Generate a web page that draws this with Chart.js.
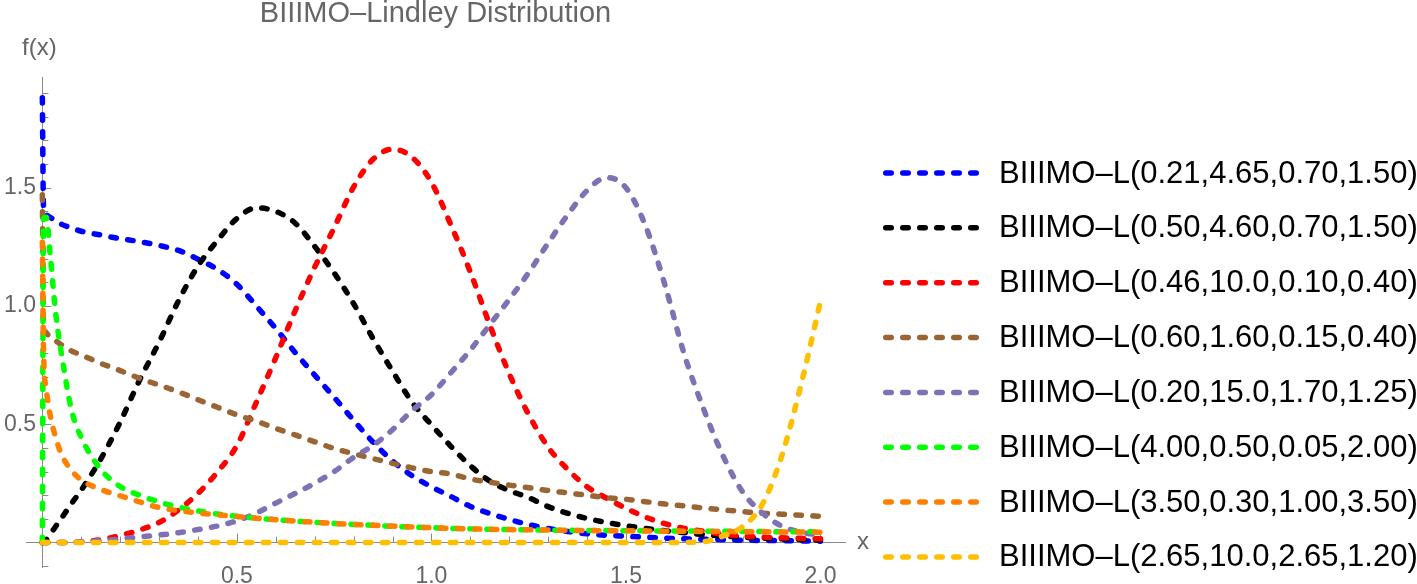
<!DOCTYPE html>
<html lang="en">
<head>
<meta charset="UTF-8">
<title>BIIIMO-Lindley Distribution</title>
<script src="https://cdn.jsdelivr.net/npm/chart.js@4.4.0/dist/chart.umd.min.js"></script>
<style>
  html, body { margin: 0; padding: 0; background: #fff; }
  #wrap { width: 1417px; height: 584px; }
</style>
</head>
<body>
<div id="wrap"><canvas id="myChart"></canvas></div>
<script>
// x grid shared by all curves (finer near 0 where curves are steep)
var xs = [0, 0.003, 0.01, 0.02, 0.035, 0.05, 0.075,
  0.1, 0.15, 0.2, 0.25, 0.3, 0.35, 0.4, 0.45, 0.5,
  0.55, 0.6, 0.65, 0.7, 0.75, 0.8, 0.85, 0.9, 0.95, 1.0,
  1.05, 1.1, 1.15, 1.2, 1.25, 1.3, 1.35, 1.4, 1.45, 1.5,
  1.55, 1.6, 1.65, 1.7, 1.75, 1.8, 1.85, 1.9, 1.95, 2.0];

var blueY = [1.88, 1.42, 1.385, 1.375, 1.36, 1.345, 1.33,
  1.316, 1.30, 1.285, 1.272, 1.256, 1.235, 1.198, 1.155, 1.092,
  1.0, 0.905, 0.803, 0.708, 0.614, 0.517, 0.425, 0.345, 0.283, 0.236,
  0.195, 0.153, 0.123, 0.098, 0.076, 0.06, 0.047, 0.037, 0.031, 0.027,
  0.023, 0.019, 0.016, 0.014, 0.012, 0.01, 0.009, 0.008, 0.007, 0.006];

var blackY = [0, 0.002, 0.012, 0.035, 0.07, 0.105, 0.165,
  0.222, 0.353, 0.509, 0.687, 0.847, 1.022, 1.169, 1.277, 1.37,
  1.415, 1.40, 1.35, 1.252, 1.14, 1.01, 0.862, 0.725, 0.594, 0.498,
  0.407, 0.325, 0.26, 0.22, 0.19, 0.152, 0.124, 0.102, 0.085, 0.071,
  0.06, 0.05, 0.042, 0.034, 0.028, 0.023, 0.019, 0.016, 0.013, 0.011];

var redY = [0, 0, 0, 0, 0, 0, 0.001,
  0.003, 0.012, 0.03, 0.053, 0.085, 0.138, 0.208, 0.298, 0.41,
  0.593, 0.782, 0.981, 1.164, 1.331, 1.503, 1.62, 1.663, 1.629, 1.523,
  1.343, 1.144, 0.92, 0.714, 0.541, 0.403, 0.31, 0.236, 0.188, 0.145,
  0.108, 0.08, 0.06, 0.048, 0.035, 0.028, 0.023, 0.02, 0.018, 0.016];

var brownY = [1.47, 0.92, 0.885, 0.866, 0.852, 0.835, 0.81,
  0.793, 0.758, 0.727, 0.694, 0.666, 0.637, 0.604, 0.572, 0.54,
  0.513, 0.483, 0.455, 0.426, 0.398, 0.376, 0.355, 0.335, 0.316, 0.3,
  0.29, 0.269, 0.255, 0.243, 0.232, 0.22, 0.21, 0.2, 0.19, 0.183,
  0.173, 0.163, 0.155, 0.146, 0.138, 0.131, 0.124, 0.12, 0.116, 0.111];

var purpleY = [0, 0, 0, 0, 0, 0, 0.001,
  0.003, 0.008, 0.015, 0.024, 0.032, 0.042, 0.055, 0.07, 0.092,
  0.125, 0.167, 0.208, 0.251, 0.3, 0.36, 0.411, 0.477, 0.558, 0.625,
  0.718, 0.814, 0.921, 1.028, 1.141, 1.266, 1.385, 1.488, 1.543, 1.50,
  1.34, 1.09, 0.795, 0.563, 0.365, 0.214, 0.126, 0.07, 0.044, 0.031];

var greenY = [0, 1.37, 1.375, 1.22, 0.96, 0.79, 0.56,
  0.445, 0.31, 0.237, 0.2, 0.172, 0.15, 0.134, 0.121, 0.111,
  0.103, 0.097, 0.091, 0.086, 0.081, 0.077, 0.073, 0.069, 0.066, 0.063,
  0.06, 0.058, 0.056, 0.055, 0.054, 0.053, 0.052, 0.051, 0.051, 0.05,
  0.05, 0.049, 0.049, 0.048, 0.048, 0.047, 0.047, 0.046, 0.046, 0.045];

var orangeY = [1.27, 0.82, 0.65, 0.54, 0.44, 0.37, 0.305,
  0.265, 0.225, 0.198, 0.172, 0.148, 0.135, 0.125, 0.117, 0.11,
  0.103, 0.097, 0.091, 0.086, 0.081, 0.077, 0.073, 0.07, 0.066, 0.063,
  0.06, 0.058, 0.056, 0.055, 0.054, 0.053, 0.052, 0.051, 0.05, 0.05,
  0.049, 0.048, 0.048, 0.047, 0.047, 0.046, 0.046, 0.045, 0.045, 0.044];

var yellowY = [0, 0, 0, 0, 0, 0, 0,
  0, 0, 0, 0, 0, 0, 0, 0, 0,
  0, 0, 0, 0, 0, 0, 0, 0, 0, 0,
  0, 0, 0, 0, 0, 0, 0, 0, 0, 0,
  0, 0, 0.001, 0.004, 0.028, 0.068, 0.16, 0.364, 0.667, 1.02];

var seriesNames = [
  'BIIIMO\u2013L(0.21,4.65,0.70,1.50)',
  'BIIIMO\u2013L(0.50,4.60,0.70,1.50)',
  'BIIIMO\u2013L(0.46,10.0,0.10,0.40)',
  'BIIIMO\u2013L(0.60,1.60,0.15,0.40)',
  'BIIIMO\u2013L(0.20,15.0,1.70,1.25)',
  'BIIIMO\u2013L(4.00,0.50,0.05,2.00)',
  'BIIIMO\u2013L(3.50,0.30,1.00,3.50)',
  'BIIIMO\u2013L(2.65,10.0,2.65,1.20)'
];
var seriesValues = [blueY, blackY, redY, brownY, purpleY, greenY, orangeY, yellowY];
var seriesColors = ['#0000ff', '#000000', '#ff0000', '#996633', '#8070b4', '#00ff00', '#ff8000', '#ffbf00'];

var xTickLabels = [0.5, 1.0, 1.5, 2.0];
var yTickLabels = [0.5, 1.0, 1.5];
var xTickMarks = [0.1, 0.2, 0.3, 0.4, 0.5, 0.6, 0.7, 0.8, 0.9, 1.0, 1.1, 1.2, 1.3, 1.4, 1.5, 1.6, 1.7, 1.8, 1.9, 2.0];
var yTickMarks = [-0.1, 0.1, 0.2, 0.3, 0.4, 0.5, 0.6, 0.7, 0.8, 0.9, 1.0, 1.1, 1.2, 1.3, 1.4, 1.5, 1.6, 1.7, 1.8, 1.9];

var fontFamily = "'Liberation Sans', Arial, sans-serif";
var axisColor = '#8a8a8a';
var labelColor = '#666666';

var datasets = seriesValues.map(function (ys, i) {
  return {
    label: seriesNames[i],
    data: xs.map(function (x, j) { return { x: x, y: ys[j] }; }),
    borderColor: seriesColors[i],
    backgroundColor: seriesColors[i],
    borderWidth: 5.5,
    borderDash: [5.5, 11.5],
    borderCapStyle: 'round',
    pointRadius: 0,
    fill: false,
    cubicInterpolationMode: 'monotone',
    order: -i
  };
});

// inward tick marks, labels, title and legend
var decor = {
  id: 'decor',
  beforeDatasetsDraw: function (chart) {
    var ctx = chart.ctx;
    var sx = chart.scales.x, sy = chart.scales.y;
    var x0 = sx.getPixelForValue(0), y0 = sy.getPixelForValue(0);
    ctx.save();
    ctx.strokeStyle = axisColor;
    ctx.lineWidth = 1;
    ctx.beginPath();
    xTickMarks.forEach(function (v) {
      var px = Math.round(sx.getPixelForValue(v)) + 0.5;
      var len = xTickLabels.indexOf(v) >= 0 ? 9 : 6;
      ctx.moveTo(px, y0);
      ctx.lineTo(px, y0 - len);
    });
    yTickMarks.forEach(function (v) {
      var py = Math.round(sy.getPixelForValue(v)) + 0.5;
      var len = yTickLabels.indexOf(v) >= 0 ? 9 : 6;
      ctx.moveTo(x0, py);
      ctx.lineTo(x0 + len, py);
    });
    ctx.stroke();
    ctx.restore();
  },
  afterDraw: function (chart) {
    var ctx = chart.ctx;
    var area = chart.chartArea;
    var sy = chart.scales.y;
    ctx.save();
    ctx.fillStyle = labelColor;
    ctx.textBaseline = 'middle';
    ctx.textAlign = 'center';
    ctx.font = '29px ' + fontFamily;
    ctx.fillText('BIIIMO\u2013Lindley Distribution', (area.left + area.right) / 2, 14);
    ctx.textAlign = 'left';
    ctx.font = '24px ' + fontFamily;
    ctx.fillText('f(x)', 22, 48);
    ctx.fillText('x', 857, sy.getPixelForValue(0));

    // legend
    var lineX0 = 885.75, lineX1 = 976.25, textX = 999, rowY = 173, rowGap = 54.85;
    chart.data.datasets.forEach(function (ds, i) {
      var y = rowY + i * rowGap;
      ctx.strokeStyle = ds.borderColor;
      ctx.lineWidth = ds.borderWidth;
      ctx.lineCap = 'round';
      ctx.setLineDash(ds.borderDash);
      ctx.beginPath();
      ctx.moveTo(lineX0, y);
      ctx.lineTo(lineX1, y);
      ctx.stroke();
      ctx.setLineDash([]);
      ctx.fillStyle = '#000000';
      ctx.font = '31px ' + fontFamily;
      ctx.fillText(ds.label, textX, y + 1);
    });
    ctx.restore();
  }
};

var ctx = document.getElementById('myChart');
var myChart = new Chart(ctx, {
  type: 'line',
  data: { datasets: datasets },
  options: {
    responsive: true,
    maintainAspectRatio: false,
    animation: false,
    events: [],
    layout: { padding: { left: 26, right: 572, top: 77, bottom: 7 } },
    plugins: {
      legend: { display: false },
      title: { display: false },
      tooltip: { enabled: false }
    },
    scales: {
      x: {
        type: 'linear',
        min: -0.042,
        max: 2.063,
        position: { y: 0 },
        afterBuildTicks: function (scale) {
          scale.ticks = xTickLabels.map(function (v) { return { value: v }; });
        },
        grid: { display: false, drawTicks: false },
        border: { display: true, color: axisColor, width: 1 },
        ticks: {
          autoSkip: false,
          maxRotation: 0,
          padding: 20,
          color: labelColor,
          font: { family: fontFamily, size: 23 },
          callback: function (v) { return Number(v).toFixed(1); }
        }
      },
      y: {
        type: 'linear',
        min: -0.104,
        max: 1.968,
        position: { x: 0 },
        afterBuildTicks: function (scale) {
          scale.ticks = yTickLabels.map(function (v) { return { value: v }; });
        },
        grid: { display: false, drawTicks: false },
        border: { display: true, color: axisColor, width: 1 },
        ticks: {
          autoSkip: false,
          color: labelColor,
          font: { family: fontFamily, size: 23 },
          // trailing space keeps the label clear of the axis line
          callback: function (v) { return Number(v).toFixed(1) + ' '; }
        }
      }
    }
  },
  plugins: [decor]
});
</script>
</body>
</html>
